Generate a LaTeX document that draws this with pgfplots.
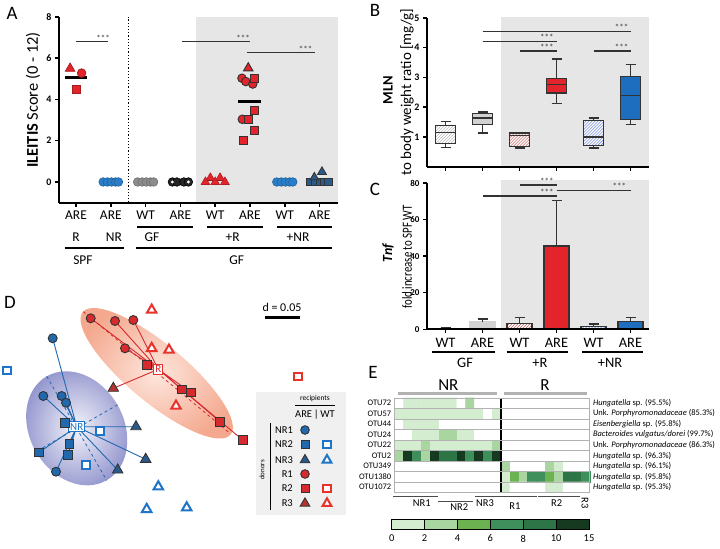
\documentclass[border=0pt]{standalone}
\usepackage{fontspec}
\setmainfont{Carlito}
\usepackage{graphicx}
\usepackage{pgfplots}
\pgfplotsset{compat=1.18}
\usepgfplotslibrary{statistics}
\usetikzlibrary{patterns}
\newcommand{\fs}[1]{\fontsize{#1}{#1}\selectfont}
\definecolor{redA}{HTML}{E3242B}
\definecolor{blueA}{HTML}{2A7DC8}
\definecolor{grayA}{HTML}{8C8C8C}
\definecolor{navyA}{HTML}{24558A}
\definecolor{shadeC}{HTML}{E6E6E6}
\definecolor{boxblue}{HTML}{1E6EBF}
\definecolor{hatchred}{HTML}{B83A3A}
\definecolor{hatchblue}{HTML}{4B6CC9}
\definecolor{edge}{HTML}{333333}
\definecolor{blueD}{HTML}{2168AD}
\definecolor{redD}{HTML}{D62A2E}
\definecolor{blueW}{HTML}{1E74C6}
\definecolor{redW}{HTML}{E8322B}
\definecolor{triB}{HTML}{2A5A8C}
\definecolor{triR}{HTML}{B7322E}
\definecolor{ellR}{HTML}{F4A88E}
\definecolor{ellRin}{HTML}{FDE6DC}
\definecolor{ellB}{HTML}{9093CC}
\definecolor{ellBin}{HTML}{F4F4FB}
\definecolor{h1}{HTML}{D4EDD1}
\definecolor{h2}{HTML}{A9D6A0}
\definecolor{h3}{HTML}{6CB250}
\definecolor{h4}{HTML}{3F8F5C}
\definecolor{h5}{HTML}{2D7546}
\definecolor{h6}{HTML}{163A20}
\pgfplotsset{
  panel/.style={scale only axis, anchor=south west, axis lines=left,
    axis line style={-, line width=2bp, black},
    tick align=outside, major tick length=4bp, tick style={line width=1.5bp, black},
    /pgf/number format/assume math mode=true, clip=false, axis on top},
  mk/.style 2 args={only marks, mark=#1, mark options={fill=#2, draw=edge, line width=0.9bp}},
  wt/.style 2 args={only marks, mark=#1, mark options={fill=white, draw=#2, line width=2bp}},
}
\begin{document}
\begin{tikzpicture}
\useasboundingbox (0,0) rectangle (720bp,549bp);
% panel letters
\node[font=\fs{19}] at (12bp,536bp) {A};
\node[font=\fs{19}] at (375bp,539bp) {B};
\node[font=\fs{19}] at (375bp,360bp) {C};
\node[font=\fs{19}] at (10bp,247bp) {D};
\node[font=\fs{19}] at (373bp,177bp) {E};
% ================= PANEL A
\node[rotate=90, font=\fs{16.5}] at (33bp,449bp) {\textbf{ILEITIS} Score (0 - 12)};
\begin{axis}[panel, at={(59bp,346.4bp)}, width=279bp, height=185.6bp,
  xmin=0.511, xmax=8.53, ymin=-1, ymax=8,
  xtick={1,...,8}, xticklabels={}, ytick={0,2,4,6,8},
  yticklabel style={font=\bfseries\fs{10}}]
\fill[shadeC] (axis cs:4.45,-1) rectangle (axis cs:8.53,8);
\draw[dotted, line width=1.2bp] (axis cs:2.5,-1) -- (axis cs:2.5,8);
% cat 1
\addplot[only marks, mark=triangle*, mark size=5.5bp, mark options={fill=redA, draw=redA!75!black, line width=0.8bp}] coordinates {(0.83,5.5)};
\addplot[only marks, mark=*, mark size=4.3bp, mark options={fill=redA, draw=redA!75!black, line width=0.8bp}] coordinates {(1.16,5.28)};
\addplot[only marks, mark=square*, mark size=4bp, mark options={fill=redA, draw=redA!75!black, line width=0.8bp}] coordinates {(1.02,4.5)};
\addplot[black, line width=2.6bp] coordinates {(0.67,5.08) (1.33,5.08)};
% cat 2
\addplot[only marks, mark=*, mark size=4.3bp, mark options={fill=blueA, draw=blueA!80!black, line width=0.6bp}] coordinates {(1.78,0) (1.9,0) (2.02,0) (2.14,0) (2.22,0)};
\addplot[black, line width=2.6bp] coordinates {(1.67,0) (2.33,0)};
% cat 3
\addplot[only marks, mark=*, mark size=4.3bp, mark options={fill=grayA, draw=grayA!80!black, line width=0.6bp}] coordinates {(2.77,0) (2.9,0) (3.02,0) (3.14,0) (3.23,0)};
\addplot[black, line width=2.6bp] coordinates {(2.67,0) (3.33,0)};
% cat 4
\addplot[only marks, mark=*, mark size=4.3bp, mark options={fill=black!85, draw=black, line width=0.6bp}] coordinates {(3.77,0) (3.9,0) (4.1,0) (4.23,0)};
\addplot[black, line width=2.6bp] coordinates {(3.67,0) (4.33,0)};
\addplot[only marks, mark=*, mark size=1.3bp, mark options={fill=white, draw=white}] coordinates {(3.77,0) (4.23,0)};
% cat 5
\addplot[only marks, mark=triangle*, mark size=5bp, mark options={fill=redA, draw=redA!80!black, line width=0.6bp}] coordinates {(4.72,0) (4.86,0.2) (5.0,0) (5.14,0.2) (5.28,0)};
\addplot[black, line width=2.6bp] coordinates {(4.67,0.1) (5.33,0.1)};
% cat 6
\addplot[mk={triangle*}{redA}, mark size=5.5bp] coordinates {(5.95,5.52)};
\addplot[mk={*}{redA}, mark size=4.3bp] coordinates {(5.77,5.03) (5.88,4.87) (6.08,4.75) (5.78,3.04)};
\addplot[mk={square*}{redA}, mark size=4bp] coordinates {(6.14,5.0) (6.14,3.49) (5.95,3.04) (6.14,2.52) (5.8,2.0)};
\addplot[black, line width=2.6bp] coordinates {(5.67,3.9) (6.33,3.9)};
% cat 7
\addplot[only marks, mark=*, mark size=4.3bp, mark options={fill=blueA, draw=blueA!80!black, line width=0.6bp}] coordinates {(6.77,0) (6.9,0) (7.02,0) (7.14,0) (7.23,0)};
\addplot[black, line width=2.6bp] coordinates {(6.67,0) (7.33,0)};
% cat 8
\addplot[mk={square*}{triB}, mark size=3.8bp] coordinates {(7.74,0) (7.88,0) (8.02,0) (8.14,0) (8.26,0)};
\addplot[mk={triangle*}{triB}, mark size=5bp] coordinates {(7.85,0.22) (8.07,0.49)};
\addplot[black, line width=2.6bp] coordinates {(7.67,0.05) (8.33,0.05)};
% significance
\draw[line width=0.8bp, edge] (axis cs:1,6.8) -- (axis cs:1.92,6.8);
\node[font=\fs{9}, anchor=south, inner sep=0.5bp, text=edge] at (axis cs:1.78,6.8) {***};
\draw[line width=0.8bp, edge] (axis cs:4.05,6.8) -- (axis cs:6.0,6.8);
\node[font=\fs{9}, anchor=south, inner sep=0.5bp, text=edge] at (axis cs:5.8,6.8) {***};
\draw[line width=0.8bp, edge] (axis cs:5.91,6.26) -- (axis cs:7.87,6.26);
\node[font=\fs{9}, anchor=south, inner sep=0.5bp, text=edge] at (axis cs:7.6,6.26) {***};
% category labels
\node[font=\fs{13.5}] at (axis cs:1,-1.6) {ARE};
\node[font=\fs{13.5}] at (axis cs:2,-1.6) {ARE};
\node[font=\fs{13.5}] at (axis cs:3,-1.6) {WT};
\node[font=\fs{13.5}] at (axis cs:4,-1.6) {ARE};
\node[font=\fs{13.5}] at (axis cs:5,-1.6) {WT};
\node[font=\fs{13.5}] at (axis cs:6,-1.6) {ARE};
\node[font=\fs{13.5}] at (axis cs:7,-1.6) {WT};
\node[font=\fs{13.5}] at (axis cs:8,-1.6) {ARE};
\draw[line width=1.8bp] (axis cs:2.75,-2.18) -- (axis cs:4.36,-2.18);
\draw[line width=1.8bp] (axis cs:4.76,-2.18) -- (axis cs:6.37,-2.18);
\draw[line width=1.8bp] (axis cs:6.78,-2.18) -- (axis cs:8.36,-2.18);
\node[font=\fs{13.5}] at (axis cs:1.0,-2.67) {R};
\node[font=\fs{13.5}] at (axis cs:2.09,-2.67) {NR};
\node[font=\fs{13.5}] at (axis cs:3.18,-2.67) {GF};
\node[font=\fs{13.5}] at (axis cs:5.5,-2.67) {+R};
\node[font=\fs{13.5}] at (axis cs:7.38,-2.67) {+NR};
\draw[line width=1.8bp] (axis cs:0.68,-3.2) -- (axis cs:2.38,-3.2);
\draw[line width=1.8bp] (axis cs:2.72,-3.2) -- (axis cs:8.36,-3.2);
\node[font=\fs{13.5}] at (axis cs:1.2,-3.79) {SPF};
\node[font=\fs{13.5}] at (axis cs:5.62,-3.79) {GF};
\end{axis}
% ================= PANEL B
\node[rotate=90, font=\bfseries\fs{14.5}] at (388bp,459bp) {MLN};
\node[rotate=90, font=\fs{15}] at (407bp,457bp) {to body weight ratio [mg/g]};
\begin{axis}[panel, at={(427bp,382.3bp)}, width=222bp, height=148.7bp,
  xmin=0.5, xmax=6.5, ymin=0, ymax=5,
  xtick={1,...,6}, xticklabels={}, ytick={1,...,5},
  yticklabel style={font=\bfseries\fs{10}},
  boxplot/draw direction=y,
  boxplot/box extend=0.54, boxplot/whisker extend=0.27]
\fill[shadeC] (axis cs:2.5,0) rectangle (axis cs:6.5,5.05);
\addplot[boxplot prepared={draw position=1, lower whisker=0.65, lower quartile=0.77, median=1.15, upper quartile=1.38, upper whisker=1.52}, draw=edge, line width=1.3bp, boxplot/every box/.style={fill=white, postaction={pattern=north east lines, pattern color=gray!70}}] coordinates {};
\addplot[boxplot prepared={draw position=2, lower whisker=1.13, lower quartile=1.41, median=1.64, upper quartile=1.8, upper whisker=1.84}, draw=edge, line width=1.3bp, fill=gray!35] coordinates {};
\addplot[boxplot prepared={draw position=3, lower whisker=0.63, lower quartile=0.68, median=1.05, upper quartile=1.13, upper whisker=1.13}, draw=edge, line width=1.3bp, boxplot/every box/.style={fill=white, postaction={pattern=north east lines, pattern color=hatchred}}] coordinates {};
\addplot[boxplot prepared={draw position=4, lower whisker=2.12, lower quartile=2.48, median=2.76, upper quartile=2.97, upper whisker=3.62}, draw=edge, line width=1.3bp, fill=redA] coordinates {};
\addplot[boxplot prepared={draw position=5, lower whisker=0.63, lower quartile=0.72, median=1.0, upper quartile=1.56, upper whisker=1.64}, draw=edge, line width=1.3bp, boxplot/every box/.style={fill=white, postaction={pattern=north east lines, pattern color=hatchblue}}] coordinates {};
\addplot[boxplot prepared={draw position=6, lower whisker=1.43, lower quartile=1.58, median=2.39, upper quartile=3.03, upper whisker=3.43}, draw=edge, line width=1.3bp, fill=boxblue] coordinates {};
\draw[line width=1.6bp, edge] (axis cs:2,4.55) -- (axis cs:6,4.55);
\node[font=\fs{9}, anchor=south, inner sep=0.5bp, text=edge] at (axis cs:5.76,4.55) {***};
\draw[line width=1.6bp, edge] (axis cs:2,4.21) -- (axis cs:4,4.21);
\node[font=\fs{9}, anchor=south, inner sep=0.5bp, text=edge] at (axis cs:3.74,4.21) {***};
\draw[line width=1.6bp, edge] (axis cs:3,3.9) -- (axis cs:4,3.9);
\node[font=\fs{9}, anchor=south, inner sep=0.5bp, text=edge] at (axis cs:3.74,3.9) {***};
\draw[line width=1.6bp, edge] (axis cs:5,3.9) -- (axis cs:6,3.9);
\node[font=\fs{9}, anchor=south, inner sep=0.5bp, text=edge] at (axis cs:5.76,3.9) {***};
\end{axis}
% ================= PANEL C
\node[rotate=90, font=\bfseries\itshape\fs{14}] at (388bp,296bp) {Tnf};
\node[rotate=90, font=\fs{14}] at (407bp,292bp) {\scalebox{0.78}[1]{fold increase to SPF WT}};
\begin{axis}[panel, at={(427bp,219.7bp)}, width=222bp, height=146.3bp,
  xmin=0.5, xmax=6.5, ymin=0, ymax=80,
  xtick={1,...,6}, xticklabels={}, ytick={0,20,...,80},
  yticklabel style={font=\bfseries\fs{9}}]
\fill[shadeC] (axis cs:2.5,0) rectangle (axis cs:6.5,81.5);
\pgfplotsset{cbar/.style={ybar, bar width=25bp, bar shift=0pt, line width=1.3bp,
  error bars/.cd, y dir=plus, y explicit, error bar style={line width=1.4bp, edge},
  error mark options={rotate=90, line width=1.4bp, mark size=5bp, edge}}}
\addplot[fill=white, draw=edge, cbar] coordinates {(1,0.5) +- (0,0.35)};
\addplot[fill=gray!35, draw=gray!35, cbar] coordinates {(2,4.1) +- (0,1.5)};
\addplot[fill=white, draw=edge, postaction={pattern=north east lines, pattern color=hatchred}, cbar] coordinates {(3,3.0) +- (0,3.4)};
\addplot[fill=redA, draw=edge, cbar] coordinates {(4,45.5) +- (0,25)};
\addplot[fill=white, draw=edge, postaction={pattern=north east lines, pattern color=hatchblue}, cbar] coordinates {(5,1.5) +- (0,1.3)};
\addplot[fill=boxblue, draw=edge, cbar] coordinates {(6,4.3) +- (0,2.1)};
\draw[line width=1.6bp, edge] (axis cs:3,78.8) -- (axis cs:4,78.8);
\node[font=\fs{9}, anchor=south, inner sep=0.5bp, text=edge] at (axis cs:3.74,78.8) {***};
\draw[line width=1.6bp, edge] (axis cs:4,76) -- (axis cs:6,76);
\node[font=\fs{9}, anchor=south, inner sep=0.5bp, text=edge] at (axis cs:5.7,76) {***};
\draw[line width=1.6bp, edge] (axis cs:2,73) -- (axis cs:4,73);
\node[font=\fs{9}, anchor=south, inner sep=0.5bp, text=edge] at (axis cs:3.74,73) {***};
\node[font=\fs{14.5}] at (axis cs:1,-7.5) {WT};
\node[font=\fs{14.5}] at (axis cs:2,-7.5) {ARE};
\node[font=\fs{14.5}] at (axis cs:3,-7.5) {WT};
\node[font=\fs{14.5}] at (axis cs:4,-7.5) {ARE};
\node[font=\fs{14.5}] at (axis cs:5,-7.5) {WT};
\node[font=\fs{14.5}] at (axis cs:6,-7.5) {ARE};
\draw[line width=1.8bp] (axis cs:0.64,-12.4) -- (axis cs:2.34,-12.4);
\draw[line width=1.8bp] (axis cs:2.66,-12.4) -- (axis cs:4.31,-12.4);
\draw[line width=1.8bp] (axis cs:4.69,-12.4) -- (axis cs:6.34,-12.4);
\node[font=\fs{14.5}] at (axis cs:1.53,-18.4) {GF};
\node[font=\fs{14.5}] at (axis cs:3.55,-18.4) {+R};
\node[font=\fs{14.5}] at (axis cs:5.45,-18.4) {+NR};
\end{axis}
% ================= PANEL D
\begin{scope}[shift={(156.7bp,175.7bp)}, rotate=-39.7]
  \shade[inner color=ellRin, outer color=ellR] (0,0) ellipse [x radius=96bp, y radius=29bp];
\end{scope}
\begin{scope}[shift={(76.7bp,120.7bp)}, rotate=-60]
  \shade[inner color=ellBin, outer color=ellB] (0,0) ellipse [x radius=60bp, y radius=47bp];
\end{scope}
\begin{axis}[at={(0bp,0bp)}, anchor=south west, scale only axis, width=350bp, height=259bp,
  xmin=0, xmax=350, ymin=290, ymax=549, y dir=reverse, hide axis, clip=false]
\addplot[redD, dashed, line width=0.8bp] coordinates {(83.3,311.7) (230,433.3)};
\addplot[blueD, dashed, line width=0.8bp] coordinates {(46.7,376.3) (106.7,480.3)};
\addplot[blueD, dashed, line width=0.8bp] coordinates {(117.6,404.8) (35.8,451.8)};
\addplot[redD, line width=0.9bp, unbounded coords=jump] coordinates {
 (158.3,369.3) (90.7,318.3) (nan,nan) (158.3,369.3) (115,321) (nan,nan)
 (158.3,369.3) (133.3,320) (nan,nan) (158.3,369.3) (125,348.3) (nan,nan)
 (158.3,369.3) (146.7,365) (nan,nan) (158.3,369.3) (181.7,389.3) (nan,nan)
 (158.3,369.3) (190.7,392.3) (nan,nan) (158.3,369.3) (220,421.7) (nan,nan)
 (158.3,369.3) (242.7,440) (nan,nan) (158.3,369.3) (113.3,388.3)};
\addplot[blueD, line width=0.9bp, unbounded coords=jump] coordinates {
 (76.7,426.7) (52.7,338.3) (nan,nan) (76.7,426.7) (43.3,396) (nan,nan)
 (76.7,426.7) (61.7,396) (nan,nan) (76.7,426.7) (66,402.7) (nan,nan)
 (76.7,426.7) (56,471.7) (nan,nan) (76.7,426.7) (65,422.7) (nan,nan)
 (76.7,426.7) (69.3,444) (nan,nan) (76.7,426.7) (67.7,455) (nan,nan)
 (76.7,426.7) (39,452.3) (nan,nan) (76.7,426.7) (136,426.7) (nan,nan)
 (76.7,426.7) (145.7,459.3) (nan,nan) (76.7,426.7) (117.7,470)};
\addplot[mk={*}{blueD}, mark size=4.5bp] coordinates {(52.7,338.3) (43.3,396) (61.7,396) (66,402.7) (56,471.7)};
\addplot[mk={square*}{blueD}, mark size=4.3bp] coordinates {(65,422.7) (69.3,444) (67.7,455) (39,452.3)};
\addplot[mk={triangle*}{triB}, mark size=6bp] coordinates {(136,426.7) (145.7,459.3) (117.7,470)};
\addplot[wt={square*}{blueW}, mark size=3.8bp] coordinates {(6.7,370.7) (100,430.7) (86,465)};
\addplot[wt={triangle*}{blueW}, mark size=5.5bp] coordinates {(158.3,486.7) (146.7,509.3) (186.7,507.7)};
\addplot[mk={*}{redD}, mark size=4.5bp] coordinates {(90.7,318.3) (115,321) (133.3,320) (125,348.3)};
\addplot[mk={square*}{redD}, mark size=4.3bp] coordinates {(146.7,365) (181.7,389.3) (190.7,392.3) (220,421.7) (242.7,440)};
\addplot[mk={triangle*}{triR}, mark size=6bp] coordinates {(113.3,388.3)};
\addplot[wt={square*}{redW}, mark size=3.8bp] coordinates {(297.7,376.7)};
\addplot[wt={triangle*}{redW}, mark size=5.5bp] coordinates {(151.7,310) (151.7,348.3) (169,350) (176,406)};
\node[draw=redW, fill=white, text=redD, line width=1bp, inner sep=1.5bp, font=\fs{11}] at (axis cs:158.3,369.3) {R};
\node[draw=blueW, fill=white, text=blueW, line width=1bp, inner sep=1.5bp, font=\fs{11}] at (axis cs:76.7,426.7) {NR};
\node[font=\fs{12}] at (axis cs:282,307) {d = 0.05};
\draw[line width=2.5bp] (axis cs:265,317.5) -- (axis cs:300,317.5);
\fill[gray!12] (axis cs:256,391.7) rectangle (axis cs:346,515);
\node[font=\fs{7.5}] at (axis cs:315,398.5) {recipients};
\draw[line width=1bp] (axis cs:295,406) -- (axis cs:335,406);
\node[font=\fs{10.5}] at (axis cs:315,414.5) {ARE\,|\,WT};
\draw[line width=1bp] (axis cs:270,423) -- (axis cs:270,510);
\node[rotate=90, font=\fs{7}] at (axis cs:262,470) {donors};
\node[font=\fs{10.5}, anchor=east, inner sep=0pt] at (axis cs:293,430) {NR1};
\node[font=\fs{10.5}, anchor=east, inner sep=0pt] at (axis cs:293,444.3) {NR2};
\node[font=\fs{10.5}, anchor=east, inner sep=0pt] at (axis cs:293,460) {NR3};
\node[font=\fs{10.5}, anchor=east, inner sep=0pt] at (axis cs:293,474) {R1};
\node[font=\fs{10.5}, anchor=east, inner sep=0pt] at (axis cs:293,488.3) {R2};
\node[font=\fs{10.5}, anchor=east, inner sep=0pt] at (axis cs:293,503.3) {R3};
\addplot[mk={*}{blueD}, mark size=4.3bp] coordinates {(305,430)};
\addplot[mk={square*}{blueD}, mark size=4bp] coordinates {(305,444.3)};
\addplot[mk={triangle*}{triB}, mark size=5.5bp] coordinates {(305,460)};
\addplot[mk={*}{redD}, mark size=4.3bp] coordinates {(305,474)};
\addplot[mk={square*}{redD}, mark size=4bp] coordinates {(305,488.3)};
\addplot[mk={triangle*}{triR}, mark size=5.5bp] coordinates {(305,503.3)};
\addplot[wt={square*}{blueW}, mark size=3.6bp] coordinates {(327,444.3)};
\addplot[wt={triangle*}{blueW}, mark size=5bp] coordinates {(327,460)};
\addplot[wt={square*}{redW}, mark size=3.6bp] coordinates {(327,488.3)};
\addplot[wt={triangle*}{redW}, mark size=5bp] coordinates {(327,503.3)};
\end{axis}
% ================= PANEL E
\begin{axis}[at={(394.7bp,56.5bp)}, anchor=south west, scale only axis, width=195bp, height=94.7bp,
  xmin=0.5, xmax=22.5, ymin=0.5, ymax=9.5, y dir=reverse,
  colormap={otu}{rgb255=(255,255,255) rgb255=(212,237,209) rgb255=(169,214,160) rgb255=(108,178,80) rgb255=(63,143,92) rgb255=(45,117,70) rgb255=(22,58,32)},
  colormap access=direct,
  xtick=\empty, ytick={1,...,9},
  yticklabels={OTU72,OTU57,OTU44,OTU24,OTU22,OTU2,OTU349,OTU1380,OTU1072},
  yticklabel style={font=\fs{8.5}},
  major tick length=0pt, minor tick length=0pt,
  minor xtick={1.5,2.5,...,21.5}, minor ytick={1.5,2.5,...,8.5},
  grid=minor, minor grid style={gray!60, line width=0.5bp},
  axis line style={gray!60, line width=0.5bp}, axis on top, clip=false]
\addplot[matrix plot*, mesh/cols=22, point meta=explicit] coordinates {
(1,1)[0] (2,1)[1] (3,1)[1] (4,1)[1] (5,1)[1] (6,1)[1] (7,1)[1] (8,1)[0] (9,1)[2] (10,1)[0] (11,1)[0] (12,1)[0] (13,1)[0] (14,1)[0] (15,1)[0] (16,1)[0] (17,1)[0] (18,1)[0] (19,1)[0] (20,1)[0] (21,1)[0] (22,1)[0]

(1,2)[1] (2,2)[1] (3,2)[1] (4,2)[1] (5,2)[1] (6,2)[1] (7,2)[1] (8,2)[1] (9,2)[1] (10,2)[1] (11,2)[0] (12,2)[1] (13,2)[0] (14,2)[0] (15,2)[0] (16,2)[0] (17,2)[0] (18,2)[0] (19,2)[0] (20,2)[0] (21,2)[0] (22,2)[0]

(1,3)[0] (2,3)[1] (3,3)[1] (4,3)[1] (5,3)[1] (6,3)[0] (7,3)[0] (8,3)[0] (9,3)[0] (10,3)[0] (11,3)[0] (12,3)[0] (13,3)[0] (14,3)[0] (15,3)[0] (16,3)[0] (17,3)[0] (18,3)[0] (19,3)[0] (20,3)[0] (21,3)[0] (22,3)[0]

(1,4)[0] (2,4)[0] (3,4)[1] (4,4)[1] (5,4)[1] (6,4)[2] (7,4)[2] (8,4)[1] (9,4)[1] (10,4)[0] (11,4)[0] (12,4)[0] (13,4)[0] (14,4)[0] (15,4)[0] (16,4)[0] (17,4)[0] (18,4)[0] (19,4)[0] (20,4)[0] (21,4)[0] (22,4)[0]

(1,5)[1] (2,5)[1] (3,5)[1] (4,5)[2] (5,5)[1] (6,5)[1] (7,5)[1] (8,5)[1] (9,5)[1] (10,5)[1] (11,5)[1] (12,5)[2] (13,5)[0] (14,5)[0] (15,5)[0] (16,5)[0] (17,5)[0] (18,5)[0] (19,5)[0] (20,5)[0] (21,5)[0] (22,5)[0]

(1,6)[2] (2,6)[6] (3,6)[4] (4,6)[2] (5,6)[6] (6,6)[5] (7,6)[5] (8,6)[6] (9,6)[4] (10,6)[6] (11,6)[4] (12,6)[6] (13,6)[0] (14,6)[0] (15,6)[0] (16,6)[0] (17,6)[0] (18,6)[0] (19,6)[0] (20,6)[0] (21,6)[0] (22,6)[0]

(1,7)[0] (2,7)[0] (3,7)[0] (4,7)[0] (5,7)[0] (6,7)[0] (7,7)[0] (8,7)[0] (9,7)[0] (10,7)[0] (11,7)[0] (12,7)[0] (13,7)[2] (14,7)[0] (15,7)[0] (16,7)[0] (17,7)[0] (18,7)[2] (19,7)[1] (20,7)[0] (21,7)[0] (22,7)[0]

(1,8)[0] (2,8)[0] (3,8)[0] (4,8)[0] (5,8)[0] (6,8)[0] (7,8)[0] (8,8)[0] (9,8)[0] (10,8)[0] (11,8)[0] (12,8)[0] (13,8)[1] (14,8)[3] (15,8)[2] (16,8)[4] (17,8)[4] (18,8)[3] (19,8)[2] (20,8)[5] (21,8)[5] (22,8)[4]

(1,9)[0] (2,9)[0] (3,9)[0] (4,9)[0] (5,9)[0] (6,9)[0] (7,9)[0] (8,9)[0] (9,9)[0] (10,9)[0] (11,9)[0] (12,9)[0] (13,9)[1] (14,9)[0] (15,9)[0] (16,9)[0] (17,9)[0] (18,9)[1] (19,9)[1] (20,9)[0] (21,9)[0] (22,9)[0]
};
\draw[line width=1.6bp, black] (axis cs:12.5,0.5) -- (axis cs:12.5,9.5);
\draw[line width=2.5bp, gray!60] (axis cs:0.87,0.07) -- (axis cs:12.0,0.07);
\draw[line width=2.5bp, gray!60] (axis cs:12.83,0.07) -- (axis cs:22.16,0.07);
\node[font=\fs{17}] at (axis cs:6.55,-0.75) {NR};
\node[font=\fs{17}] at (axis cs:17.46,-0.75) {R};
\node[font=\fs{8.5}, anchor=west, inner sep=0pt] at (axis cs:22.85,1) {\textit{Hungatella} sp. (95.5\%)};
\node[font=\fs{8.5}, anchor=west, inner sep=0pt] at (axis cs:22.85,2) {Unk. \textit{Porphyromonadaceae} (85.3\%)};
\node[font=\fs{8.5}, anchor=west, inner sep=0pt] at (axis cs:22.85,3) {\textit{Eisenbergiella} sp. (95.8\%)};
\node[font=\fs{8.5}, anchor=west, inner sep=0pt] at (axis cs:22.85,4) {\textit{Bacteroides vulgatus/dorei} (99.7\%)};
\node[font=\fs{8.5}, anchor=west, inner sep=0pt] at (axis cs:22.85,5) {Unk. \textit{Porphyromonadaceae} (86.3\%)};
\node[font=\fs{8.5}, anchor=west, inner sep=0pt] at (axis cs:22.85,6) {\textit{Hungatella} sp. (96.3\%)};
\node[font=\fs{8.5}, anchor=west, inner sep=0pt] at (axis cs:22.85,7) {\textit{Hungatella} sp. (96.1\%)};
\node[font=\fs{8.5}, anchor=west, inner sep=0pt] at (axis cs:22.85,8) {\textit{Hungatella} sp. (95.8\%)};
\node[font=\fs{8.5}, anchor=west, inner sep=0pt] at (axis cs:22.85,9) {\textit{Hungatella} sp. (95.3\%)};
\draw[line width=1.2bp, black!70] (axis cs:0.31,9.9) -- (axis cs:5.38,9.9);
\draw[line width=1.2bp, black!70] (axis cs:5.38,10.38) -- (axis cs:9.33,10.38);
\draw[line width=1.2bp, black!70] (axis cs:9.56,9.9) -- (axis cs:12.72,9.9);
\draw[line width=1.2bp, black!70] (axis cs:12.72,9.9) -- (axis cs:16.55,9.9);
\draw[line width=1.2bp, black!70] (axis cs:16.66,9.9) -- (axis cs:21.4,9.9);
\node[font=\fs{10.5}] at (axis cs:3.55,10.53) {NR1};
\node[font=\fs{10.5}] at (axis cs:7.79,10.85) {NR2};
\node[font=\fs{10.5}] at (axis cs:10.69,10.53) {NR3};
\node[font=\fs{10.5}] at (axis cs:14.07,10.79) {R1};
\node[font=\fs{10.5}] at (axis cs:18.78,10.5) {R2};
\node[font=\fs{10.5}, rotate=-90] at (axis cs:21.97,10.5) {R3};
\end{axis}
% colour bar
\begin{axis}[at={(391.7bp,19bp)}, anchor=south west, scale only axis, width=197.3bp, height=10bp,
  xmin=0, xmax=6, ymin=0, ymax=1, hide axis, clip=false]
\addplot[fill=h1, draw=black, line width=1bp] coordinates {(0,0) (1,0) (1,1) (0,1)} -- cycle;
\addplot[fill=h2, draw=black, line width=1bp] coordinates {(1,0) (2,0) (2,1) (1,1)} -- cycle;
\addplot[fill=h3, draw=black, line width=1bp] coordinates {(2,0) (3,0) (3,1) (2,1)} -- cycle;
\addplot[fill=h4, draw=black, line width=1bp] coordinates {(3,0) (4,0) (4,1) (3,1)} -- cycle;
\addplot[fill=h5, draw=black, line width=1bp] coordinates {(4,0) (5,0) (5,1) (4,1)} -- cycle;
\addplot[fill=h6, draw=black, line width=1bp] coordinates {(5,0) (6,0) (6,1) (5,1)} -- cycle;
\node[font=\fs{10.5}] at (axis cs:0,-0.85) {0};
\node[font=\fs{10.5}] at (axis cs:1,-0.85) {2};
\node[font=\fs{10.5}] at (axis cs:2,-0.85) {4};
\node[font=\fs{10.5}] at (axis cs:3,-0.85) {6};
\node[font=\fs{10.5}] at (axis cs:4,-0.85) {8};
\node[font=\fs{10.5}] at (axis cs:5,-0.85) {10};
\node[font=\fs{10.5}] at (axis cs:6,-0.85) {15};
\end{axis}
\end{tikzpicture}
\end{document}
